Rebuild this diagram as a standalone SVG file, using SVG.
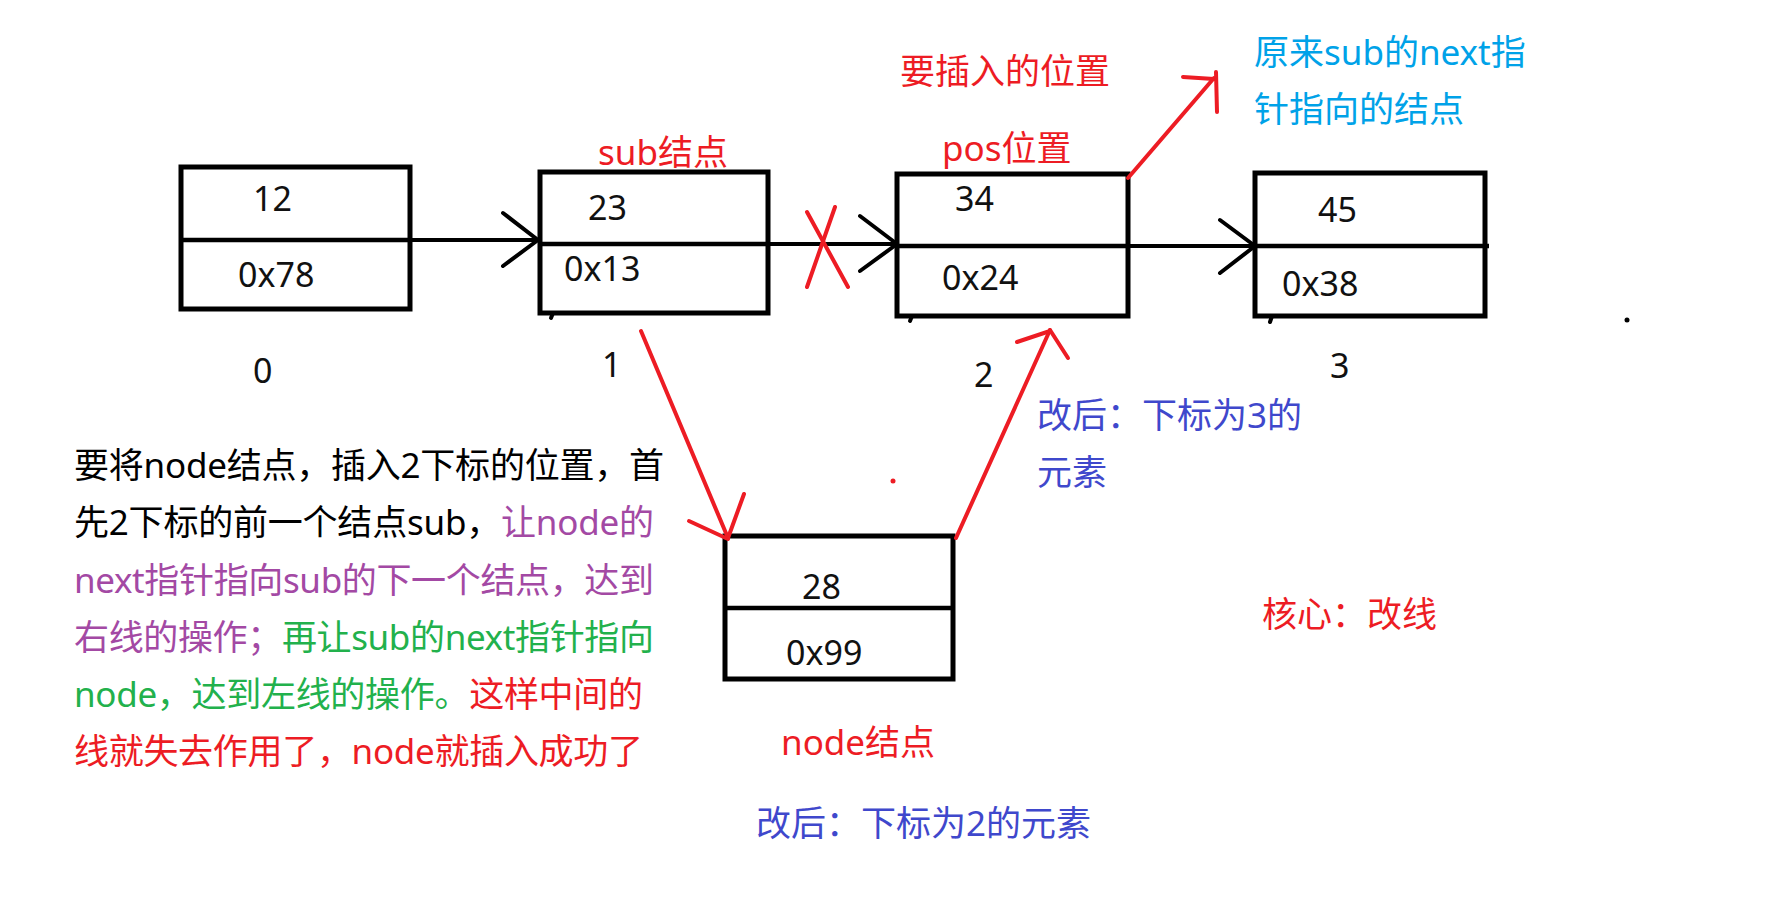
<svg xmlns="http://www.w3.org/2000/svg" width="1774" height="913" viewBox="0 0 1774 913">
<style>
text{font-family:'Noto Sans','Noto Sans CJK SC',sans-serif;font-size:35px}
.num{font-size:34px;fill:#111}
.box{fill:none;stroke:#000;stroke-width:5}
.div{stroke:#000;stroke-width:4.5}
.blk{stroke:#000;stroke-width:4;fill:none;stroke-linecap:round;stroke-linejoin:round}
.red{stroke:#ED1C24;stroke-width:4;fill:none;stroke-linecap:round;stroke-linejoin:round}
.r{fill:#ED1C24}.k{fill:#000}.p{fill:#A349A4}.g{fill:#22B14C}.i{fill:#3F48CC}.b{fill:#00A2E8}
</style>
<rect width="1774" height="913" fill="#fff"/>
<g id="node0">
<rect class="box" x="181" y="167" width="229" height="142"/>
<line class="div" x1="181" y1="240" x2="410" y2="240"/>
<text class="num" x="253" y="211">12</text>
<text class="num" x="238" y="287">0x78</text>
<text class="num" x="253" y="383">0</text>
</g>
<g id="node1">
<rect class="box" x="540" y="172" width="228" height="141"/>
<line class="div" x1="540" y1="244" x2="768" y2="244"/>
<text class="num" x="588" y="220">23</text>
<text class="num" x="564" y="281">0x13</text>
<text class="num" x="602" y="377">1</text>
<text class="r" x="598" y="165">sub结点</text>
</g>
<g id="node2">
<rect class="box" x="897" y="174" width="231" height="142"/>
<line class="div" x1="897" y1="246" x2="1128" y2="246"/>
<text class="num" x="955" y="211">34</text>
<text class="num" x="942" y="290">0x24</text>
<text class="num" x="974" y="387">2</text>
<text class="r" x="942" y="161">pos位置</text>
<text class="r" x="900" y="84">要插入的位置</text>
</g>
<g id="node3">
<rect class="box" x="1255" y="173" width="230" height="143"/>
<line class="div" x1="1255" y1="246" x2="1489" y2="246"/>
<text class="num" x="1318" y="222">45</text>
<text class="num" x="1282" y="296">0x38</text>
<text class="num" x="1330" y="378">3</text>
<text class="b" x="1254" y="65">原来sub的next指</text>
<text class="b" x="1254" y="122">针指向的结点</text>
</g>
<g id="newnode">
<rect class="box" x="725" y="536" width="228" height="143"/>
<line class="div" x1="725" y1="608" x2="953" y2="608"/>
<text class="num" x="802" y="599">28</text>
<text class="num" x="786" y="665">0x99</text>
<text class="r" x="781" y="755">node结点</text>
<text class="i" x="756" y="836">改后：下标为2的元素</text>
</g>
<g id="notes">
<text class="i" x="1037" y="428">改后：下标为3的</text>
<text class="i" x="1037" y="485">元素</text>
<text class="r" x="1262" y="627">核心：改线</text>
<text x="74" y="478" textLength="590"><tspan class="k">要将node结点，插入2下标的位置，首</tspan></text>
<text x="74" y="535" textLength="580"><tspan class="k">先2下标的前一个结点sub，</tspan><tspan class="p">让node的</tspan></text>
<text x="74" y="593" textLength="580"><tspan class="p">next指针指向sub的下一个结点，达到</tspan></text>
<text x="74" y="650" textLength="580"><tspan class="p">右线的操作；</tspan><tspan class="g">再让sub的next指针指向</tspan></text>
<text x="74" y="707" textLength="569"><tspan class="g">node，达到左线的操作。</tspan><tspan class="r">这样中间的</tspan></text>
<text x="74" y="764" textLength="569"><tspan class="r">线就失去作用了，node就插入成功了</tspan></text>
</g>
<g id="connectors">
<line class="blk" x1="410" y1="240" x2="538" y2="240"/>
<polyline class="blk" points="503,213 538,240 503,266"/>
<line class="blk" x1="768" y1="244" x2="896" y2="244"/>
<polyline class="blk" points="860,216 897,244 860,271"/>
<line class="blk" x1="1128" y1="246" x2="1254" y2="246"/>
<polyline class="blk" points="1220,220 1255,246 1220,273"/>
<line class="red" x1="807" y1="212" x2="848" y2="287"/>
<line class="red" x1="835" y1="207" x2="807" y2="287"/>
<line class="red" x1="1128" y1="178" x2="1214" y2="78"/>
<polyline class="red" points="1183,77 1214,79"/>
<line class="red" x1="1216" y1="72" x2="1217" y2="112"/>
<line class="red" x1="641" y1="331" x2="728" y2="538"/>
<line class="red" x1="689" y1="521" x2="728" y2="539"/>
<line class="red" x1="744" y1="494" x2="728" y2="538"/>
<line class="red" x1="956" y1="538" x2="1050" y2="330"/>
<line class="red" x1="1017" y1="342" x2="1050" y2="331"/>
<line class="red" x1="1050" y1="330" x2="1068" y2="358"/>
</g>
<g id="marks">
<circle cx="893" cy="481" r="2.5" fill="#ED1C24"/>
<circle cx="1627" cy="320" r="2.5" fill="#000"/>
<line class="blk" x1="553" y1="313" x2="551" y2="318" stroke-width="3"/>
<line class="blk" x1="912" y1="316" x2="910" y2="321" stroke-width="3"/>
<line class="blk" x1="1272" y1="316" x2="1270" y2="322" stroke-width="3"/>
</g>
</svg>
